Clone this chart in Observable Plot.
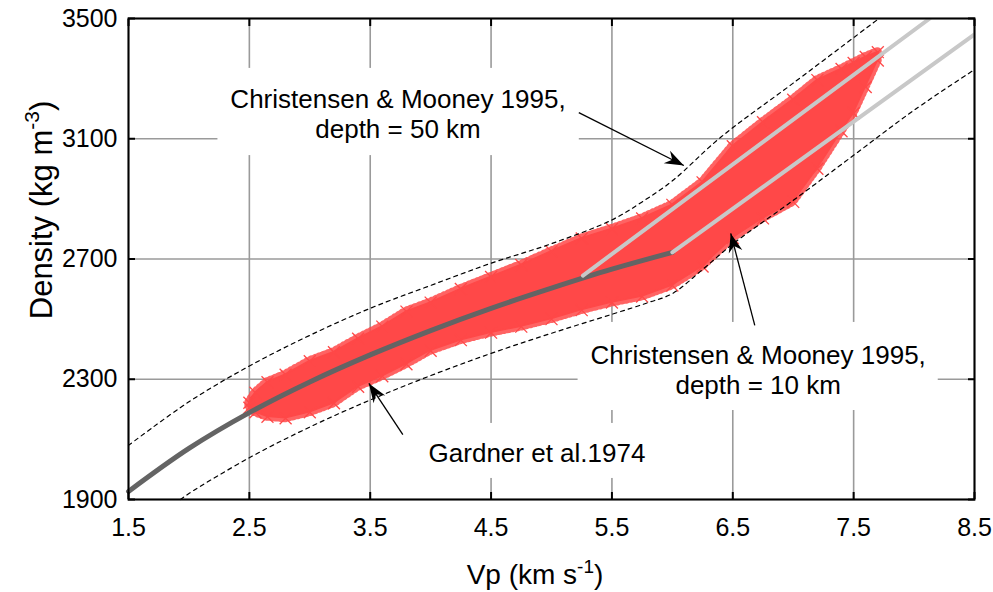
<!DOCTYPE html>
<html><head><meta charset="utf-8">
<script src="https://cdn.jsdelivr.net/npm/d3@7"></script>
<script src="https://cdn.jsdelivr.net/npm/@observablehq/plot@0.6"></script>
<style>
body{margin:0;background:#fff;}
#chart svg{font-family:"Liberation Sans",Arial,Helvetica,sans-serif;overflow:visible;}
</style>
</head><body><div id="chart"></div>
<script>
// ---- axes ----
const xTicks = [1.5, 2.5, 3.5, 4.5, 5.5, 6.5, 7.5, 8.5];
const yTicks = [1900, 2300, 2700, 3100, 3500];

// ---- Gardner et al. 1974 curve ----
const gardnerVp  = [1.5, 2.0, 2.5, 3.0, 3.5, 4.0, 4.5, 5.0, 5.5, 6.0];
const gardnerRho = [1927, 2070, 2189, 2291, 2381, 2462, 2536, 2603, 2666, 2722];

// ---- Christensen & Mooney 1995 lines ----
const cm50Vp  = [5.26, 8.13];
const cm50Rho = [2645, 3500];
const cm10Vp  = [6.0, 8.5];
const cm10Rho = [2722, 3447];

// ---- dashed envelope ----
const upperVp  = [1.5, 2.0, 2.5, 3.0, 3.5, 4.0, 4.5, 5.0, 5.5, 5.75, 6.0, 6.4, 7.0, 7.7];
const upperRho = [2080, 2225, 2344, 2446, 2536, 2612, 2686, 2751, 2830, 2890, 2960, 3105, 3285, 3497];
const lowerVp  = [1.93, 2.0, 2.5, 3.0, 3.5, 4.0, 4.5, 5.0, 5.5, 5.8, 6.0, 6.25, 6.5, 7.0, 7.5, 8.0, 8.5];
const lowerRho = [1900, 1920, 2039, 2141, 2231, 2312, 2386, 2453, 2516, 2555, 2585, 2665, 2750, 2895, 3045, 3195, 3330];

// ---- data cloud outline (lower / upper edge) ----
const cloudVp = [2.50, 2.55, 2.65, 2.80, 3.00, 3.20, 3.40, 3.60, 3.80, 4.00, 4.25, 4.50, 4.75, 5.00, 5.25, 5.50, 5.75, 6.00, 6.25, 6.50, 6.75, 7.00, 7.20, 7.40, 7.50, 7.60, 7.70];
const cloudLo = [2205, 2190, 2175, 2170, 2190, 2220, 2275, 2310, 2350, 2395, 2430, 2455, 2475, 2500, 2530, 2555, 2575, 2612, 2675, 2770, 2835, 2890, 3000, 3125, 3185, 3272, 3360];
const cloudHi = [2222, 2255, 2290, 2315, 2360, 2390, 2435, 2475, 2525, 2555, 2600, 2640, 2680, 2725, 2768, 2800, 2835, 2880, 2955, 3075, 3155, 3230, 3295, 3332, 3352, 3372, 3388];

// ---- annotations ----
const annoText = ["Christensen & Mooney 1995,\ndepth = 50 km", "Christensen & Mooney 1995,\ndepth = 10 km", "Gardner et al.1974"];
const annoVp   = [3.73, 6.71, 4.88];
const annoRho  = [3184, 2332, 2056];
const boxVp1  = [2.24, 5.22, 3.92];
const boxVp2  = [5.23, 8.20, 5.86];
const boxRho1 = [3044, 2196, 1970];
const boxRho2 = [3334, 2489, 2153];
const arrowFromVp  = [5.226, 6.682, 3.770];
const arrowFromRho = [3187, 2479, 2116];
const arrowToVp    = [6.095, 6.483, 3.489];
const arrowToRho   = [3011, 2785, 2286];

// build tables
const gardner = gardnerVp.map((v, i) => ({vp: v, rho: gardnerRho[i]}));
const cm50 = cm50Vp.map((v, i) => ({vp: v, rho: cm50Rho[i]}));
const cm10 = cm10Vp.map((v, i) => ({vp: v, rho: cm10Rho[i]}));
const upper = upperVp.map((v, i) => ({vp: v, rho: upperRho[i]}));
const lower = lowerVp.map((v, i) => ({vp: v, rho: lowerRho[i]}));
const cloud = cloudVp.map((v, i) => ({vp: v, lo: cloudLo[i], hi: cloudHi[i]}));
const cloudEdge = cloud.flatMap(d => [{vp: d.vp, rho: d.lo}, {vp: d.vp, rho: d.hi}]);
const annos = annoText.map((t, i) => ({t, vp: annoVp[i], rho: annoRho[i]}));
const boxes = boxVp1.map((v, i) => ({x1: v, x2: boxVp2[i], y1: boxRho1[i], y2: boxRho2[i]}));
const arrows = arrowFromVp.map((v, i) => ({x1: v, y1: arrowFromRho[i], x2: arrowToVp[i], y2: arrowToRho[i]}));

const RED = "#ff4848";

function filledArrow(color, context) {
  const m = d3.create("svg:marker")
    .attr("viewBox", "-20 -8 22 16")
    .attr("markerWidth", 22).attr("markerHeight", 16)
    .attr("markerUnits", "userSpaceOnUse")
    .attr("refX", 0).attr("refY", 0)
    .attr("orient", "auto");
  m.append("path").attr("d", "M0,0L-19,-7L-13,0L-19,7Z").attr("fill", "black").attr("stroke", "none");
  return m.node();
}

const plot = Plot.plot({
  width: 993,
  height: 592,
  marginLeft: 128,
  marginRight: 19,
  marginTop: 18,
  marginBottom: 93,
  style: {fontSize: "25px", fontFamily: "Liberation Sans, Arial, sans-serif", color: "black", background: "white"},
  x: {domain: [1.5, 8.5]},
  y: {domain: [1900, 3500]},
  marks: [
    Plot.gridX(xTicks, {stroke: "#9a9a9a", strokeOpacity: 1, strokeWidth: 1.6}),
    Plot.gridY(yTicks, {stroke: "#9a9a9a", strokeOpacity: 1, strokeWidth: 1.6}),
    Plot.rect(boxes, {x1: "x1", x2: "x2", y1: "y1", y2: "y2", fill: "white"}),
    // fuzzy fringe of the scatter cloud
    Plot.areaY(cloud, {x: "vp", y1: "lo", y2: "hi", fill: "none", stroke: RED, strokeWidth: 9, strokeDasharray: "1,3.5", strokeOpacity: 0.85}),
    Plot.areaY(cloud, {x: "vp", y1: "lo", y2: "hi", fill: RED, stroke: RED, strokeWidth: 1.5}),
    Plot.dot(cloudEdge, {x: "vp", y: "rho", symbol: "times", r: 5.5, stroke: RED, strokeWidth: 1.3}),
    Plot.line(upper, {x: "vp", y: "rho", stroke: "black", strokeWidth: 1.2, strokeDasharray: "4,4", curve: "catmull-rom"}),
    Plot.line(lower, {x: "vp", y: "rho", stroke: "black", strokeWidth: 1.2, strokeDasharray: "4,4", curve: "catmull-rom"}),
    Plot.line(gardner, {x: "vp", y: "rho", stroke: "#646464", strokeWidth: 5, curve: "catmull-rom"}),
    Plot.line(cm50, {x: "vp", y: "rho", stroke: "#c8c8c8", strokeWidth: 4, clip: true}),
    Plot.line(cm10, {x: "vp", y: "rho", stroke: "#c8c8c8", strokeWidth: 4, clip: true}),
    Plot.link(arrows, {x1: "x1", y1: "y1", x2: "x2", y2: "y2", stroke: "black", strokeWidth: 1.3, markerEnd: filledArrow}),
    Plot.text(annos, {x: "vp", y: "rho", text: "t", fontSize: 26, lineHeight: 1.15, fill: "black", textAnchor: "middle"}),
    Plot.frame({stroke: "black", strokeWidth: 2}),
    Plot.axisX(xTicks, {anchor: "bottom", tickSize: -7, tickPadding: 26, strokeWidth: 2, fontSize: 25, tickFormat: d => String(d), label: null}),
    Plot.axisX(xTicks, {anchor: "top", tickSize: -7, strokeWidth: 2, tickFormat: () => "", label: null}),
    Plot.axisY(yTicks, {anchor: "left", tickSize: -7, tickPadding: 18, strokeWidth: 2, fontSize: 25, tickFormat: d => String(d), label: null}),
    Plot.axisY(yTicks, {anchor: "right", tickSize: -7, strokeWidth: 2, tickFormat: () => "", label: null})
  ]
});

const svg = d3.select(plot);
// x-axis label
const xl = svg.append("text").attr("x", 535).attr("y", 584).attr("text-anchor", "middle")
  .attr("font-size", 28).attr("fill", "black");
xl.append("tspan").text("Vp (km s");
xl.append("tspan").attr("font-size", 19).attr("dy", -11).text("-1");
xl.append("tspan").attr("dy", 11).text(")");
// y-axis label
const yl = svg.append("text").attr("transform", "translate(52,210) rotate(-90)").attr("text-anchor", "middle")
  .attr("font-size", 31).attr("fill", "black");
yl.append("tspan").text("Density (kg m");
yl.append("tspan").attr("font-size", 21).attr("dy", -13).text("-3");
yl.append("tspan").attr("dy", 13).text(")");

document.getElementById("chart").appendChild(plot);
</script>
</body></html>
